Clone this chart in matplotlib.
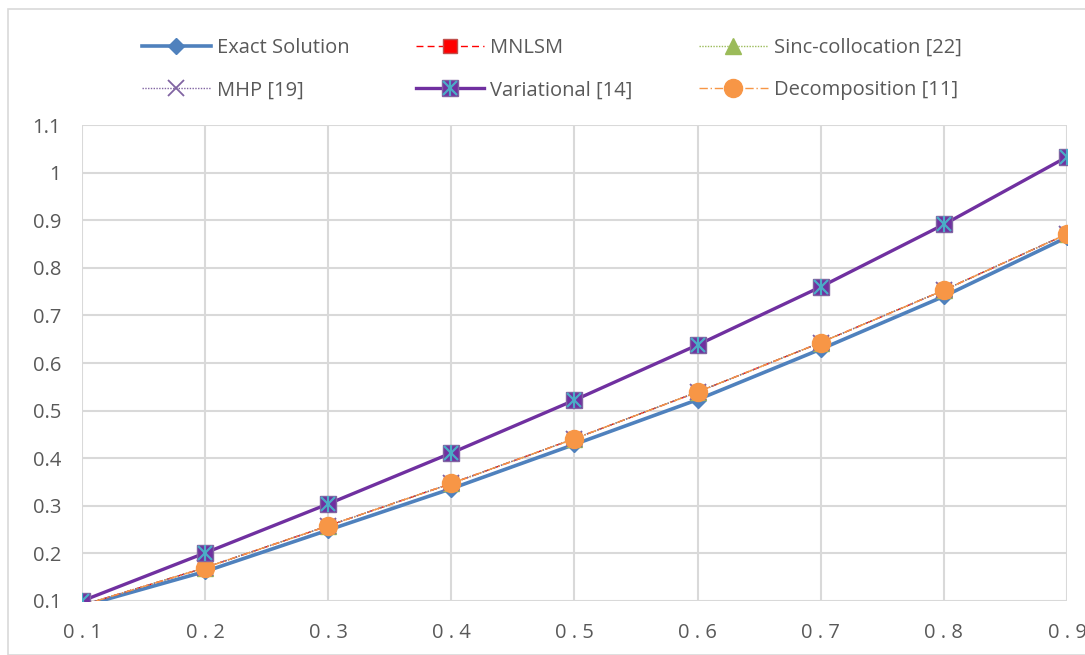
import matplotlib.pyplot as plt
from matplotlib.patches import Rectangle
from matplotlib.legend_handler import HandlerTuple

x = [0.1, 0.2, 0.3, 0.4, 0.5, 0.6, 0.7, 0.8, 0.9]
exact = [0.089, 0.162, 0.249, 0.336, 0.429, 0.523, 0.629, 0.740, 0.864]
mnlsm = [0.091, 0.170, 0.258, 0.347, 0.441, 0.539, 0.643, 0.753, 0.871]
sinc = [0.091, 0.170, 0.258, 0.347, 0.441, 0.539, 0.643, 0.753, 0.871]
mhp = [0.091, 0.170, 0.258, 0.347, 0.441, 0.539, 0.643, 0.753, 0.871]
variational = [0.100, 0.201, 0.304, 0.411, 0.522, 0.638, 0.760, 0.891, 1.033]
decomp = [0.091, 0.170, 0.258, 0.347, 0.441, 0.539, 0.643, 0.753, 0.871]

xlabels = ['0.1', '0.2', '0.3', '0.4', '0.5', '0.6', '0.7', '0.8', '0.9']
ylabels = ['0.1', '0.2', '0.3', '0.4', '0.5', '0.6', '0.7', '0.8', '0.9', '1', '1.1']

plt.rcParams['font.family'] = ['Open Sans', 'DejaVu Sans']
grey = '#595959'

fig = plt.figure(figsize=(10.85, 6.55), dpi=100)
fig.patches.append(Rectangle((8 / 1085, 0), 1.2, 1 - 9 / 655, transform=fig.transFigure,
                             fill=False, edgecolor='#d9d9d9', linewidth=1.2))
ax = fig.add_axes([82 / 1085, 1 - 601 / 655, 985 / 1085, 476 / 655])

l1, = ax.plot(x, exact, color='#4f81bd', lw=2.6, marker='D', ms=8,
              mfc='#4f81bd', mec='#4f81bd')
l2, = ax.plot(x, mnlsm, color='#ff0000', lw=1.0, ls=(0, (5, 3)), marker='s', ms=10,
              mfc='#ff0000', mec='#c0504d')
l3, = ax.plot(x, sinc, color='#9bbb59', lw=1.0, ls=(0, (1, 1)), marker='^', ms=11,
              mfc='#9bbb59', mec='#9bbb59')
l4, = ax.plot(x, mhp, color='#8064a2', lw=1.0, ls=(0, (1, 1)), marker='x', ms=11,
              mew=1.3, mec='#8064a2')
l6, = ax.plot(x, decomp, color='#f79646', lw=1.0, ls=(0, (6, 2, 1, 2)), marker='o', ms=13,
              mfc='#f79646', mec='#f79646')
l5, = ax.plot(x, variational, color='#7030a0', lw=2.4, marker='s', ms=12,
              mfc='#7030a0', mec='#8064a2')
l5b, = ax.plot(x, variational, ls='none', marker='x', ms=10, mew=1.6, mec='#4bacc6')
l5c, = ax.plot(x, variational, ls='none', marker='|', ms=12, mew=1.6, mec='#4bacc6')

ax.set_xlim(0.1, 0.9)
ax.set_ylim(0.1, 1.1)
ax.set_xticks(x)
ax.set_xticklabels([' '.join(t) for t in xlabels])
ax.set_yticks([float(t) for t in ylabels])
ax.set_yticklabels(ylabels)
ax.tick_params(length=0, labelsize=14.5, colors=grey)
ax.tick_params(axis='y', pad=15)
ax.tick_params(axis='x', pad=16)
ax.grid(True, color='#d9d9d9', lw=1.5)
ax.set_axisbelow(True)
for s in ax.spines.values():
    s.set_visible(False)

handles = [l1, l4, l2, (l5, l5b, l5c), l3, l6]
labels = ['Exact Solution', 'MHP [19]', 'MNLSM', 'Variational [14]',
          'Sinc-collocation [22]', 'Decomposition [11]']
fig.legend(handles, labels, ncol=3, loc='upper left', bbox_to_anchor=(124 / 1085, 1 - 20 / 655),
           frameon=False, fontsize=14.5, labelcolor=grey, handlelength=3.4,
           handletextpad=0.3, columnspacing=3.3, labelspacing=1.1,
           handler_map={tuple: HandlerTuple(ndivide=1)})

fig.savefig('out.png', dpi=100)
